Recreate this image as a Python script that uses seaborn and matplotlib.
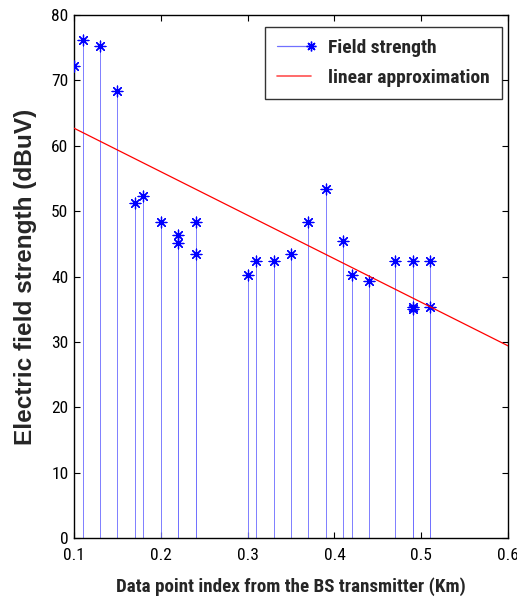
import numpy as np
import pandas as pd
import seaborn as sns
import matplotlib
matplotlib.use("Agg")
import matplotlib.pyplot as plt
from matplotlib.lines import Line2D
from matplotlib.legend_handler import HandlerBase

# ---- data ----
distance_km = [0.10, 0.11, 0.13, 0.15, 0.17, 0.18, 0.20, 0.22, 0.22, 0.24, 0.24,
               0.30, 0.31, 0.33, 0.35, 0.37, 0.39, 0.41, 0.42, 0.44, 0.47,
               0.49, 0.49, 0.49, 0.51, 0.51]
field_strength = [72.2, 76.2, 75.3, 68.4, 51.3, 52.4, 48.4, 46.3, 45.2, 48.4, 43.4,
                  40.2, 42.4, 42.4, 43.4, 48.4, 53.4, 45.4, 40.3, 39.3, 42.4,
                  42.4, 35.4, 35.0, 42.4, 35.4]
fit_x = [0.1, 0.6]
fit_y = [62.7, 29.4]
x_ticks = [0.1, 0.2, 0.3, 0.4, 0.5, 0.6]
y_ticks = [0, 10, 20, 30, 40, 50, 60, 70, 80]

df = pd.DataFrame({"x": distance_km, "y": field_strength})
fit_df = pd.DataFrame({"x": fit_x, "y": fit_y})

sns.set_style("ticks")
narrow = ['Liberation Sans Narrow', 'Arial Narrow', 'Roboto Condensed',
          'PT Sans Narrow', 'Archivo Narrow', 'Liberation Sans', 'DejaVu Sans']
plt.rcParams['font.family'] = narrow

fig = plt.figure(figsize=(5.17, 6.0), dpi=100)
ax = fig.add_axes([0.143, 0.103, 0.840, 0.872])

blue = "#0000ff"
asterisk = (8, 2, 0)

# stems
ax.vlines(df["x"], 0, df["y"], colors="#7070ff", linewidth=0.7, alpha=0.9, zorder=2)
sns.scatterplot(data=df, x="x", y="y", ax=ax, marker=asterisk, s=60,
                color=blue, linewidth=0.9, edgecolor=blue, zorder=3, legend=False)
sns.lineplot(data=fit_df, x="x", y="y", ax=ax, color="red", linewidth=0.9,
             zorder=4, legend=False)

ax.set_xlim(0.1, 0.6)
ax.set_ylim(0, 80)
ax.set_xticks(x_ticks)
ax.set_xticklabels([f"{t:g}" for t in x_ticks])
ax.set_yticks(y_ticks)
ax.tick_params(direction="in", length=4, width=0.8, top=True, right=True,
               labelsize=12.5, colors="black")
ax.tick_params(axis="x", pad=7)
ax.tick_params(axis="y", pad=4)
for s in ax.spines.values():
    s.set_linewidth(1.0)
    s.set_color("black")

ax.set_xlabel("Data point index from the BS transmitter (Km)", fontsize=13.7,
              fontweight="bold", labelpad=10)
ax.set_ylabel("Electric field strength (dBuV)", fontsize=17.6, fontweight="bold",
              family=["Liberation Sans", "DejaVu Sans"], labelpad=10)


class StemHandler(HandlerBase):
    def create_artists(self, legend, orig_handle, xdescent, ydescent,
                       width, height, fontsize, trans):
        y = height / 2 - ydescent
        ln = Line2D([-xdescent, width - xdescent], [y, y], color="#7070ff",
                    linewidth=0.9, transform=trans)
        mk = Line2D([width - xdescent], [y], marker=asterisk, markersize=7,
                    color=blue, markeredgewidth=1.0, linestyle="none",
                    transform=trans)
        return [ln, mk]


stem_handle = Line2D([], [], color=blue)
fit_handle = Line2D([], [], color="#ff5050", linewidth=1.2)
leg = ax.legend([stem_handle, fit_handle], ["Field strength", "linear approximation"],
                handler_map={stem_handle: StemHandler()},
                loc="upper right", bbox_to_anchor=(0.985, 0.977),
                prop={"weight": "bold", "size": 14}, frameon=True, fancybox=False,
                edgecolor="black", handlelength=1.75, handletextpad=0.85,
                borderpad=0.62, labelspacing=0.62, borderaxespad=0.0)
leg.get_frame().set_linewidth(1.0)

fig.savefig("out.png", dpi=100)
